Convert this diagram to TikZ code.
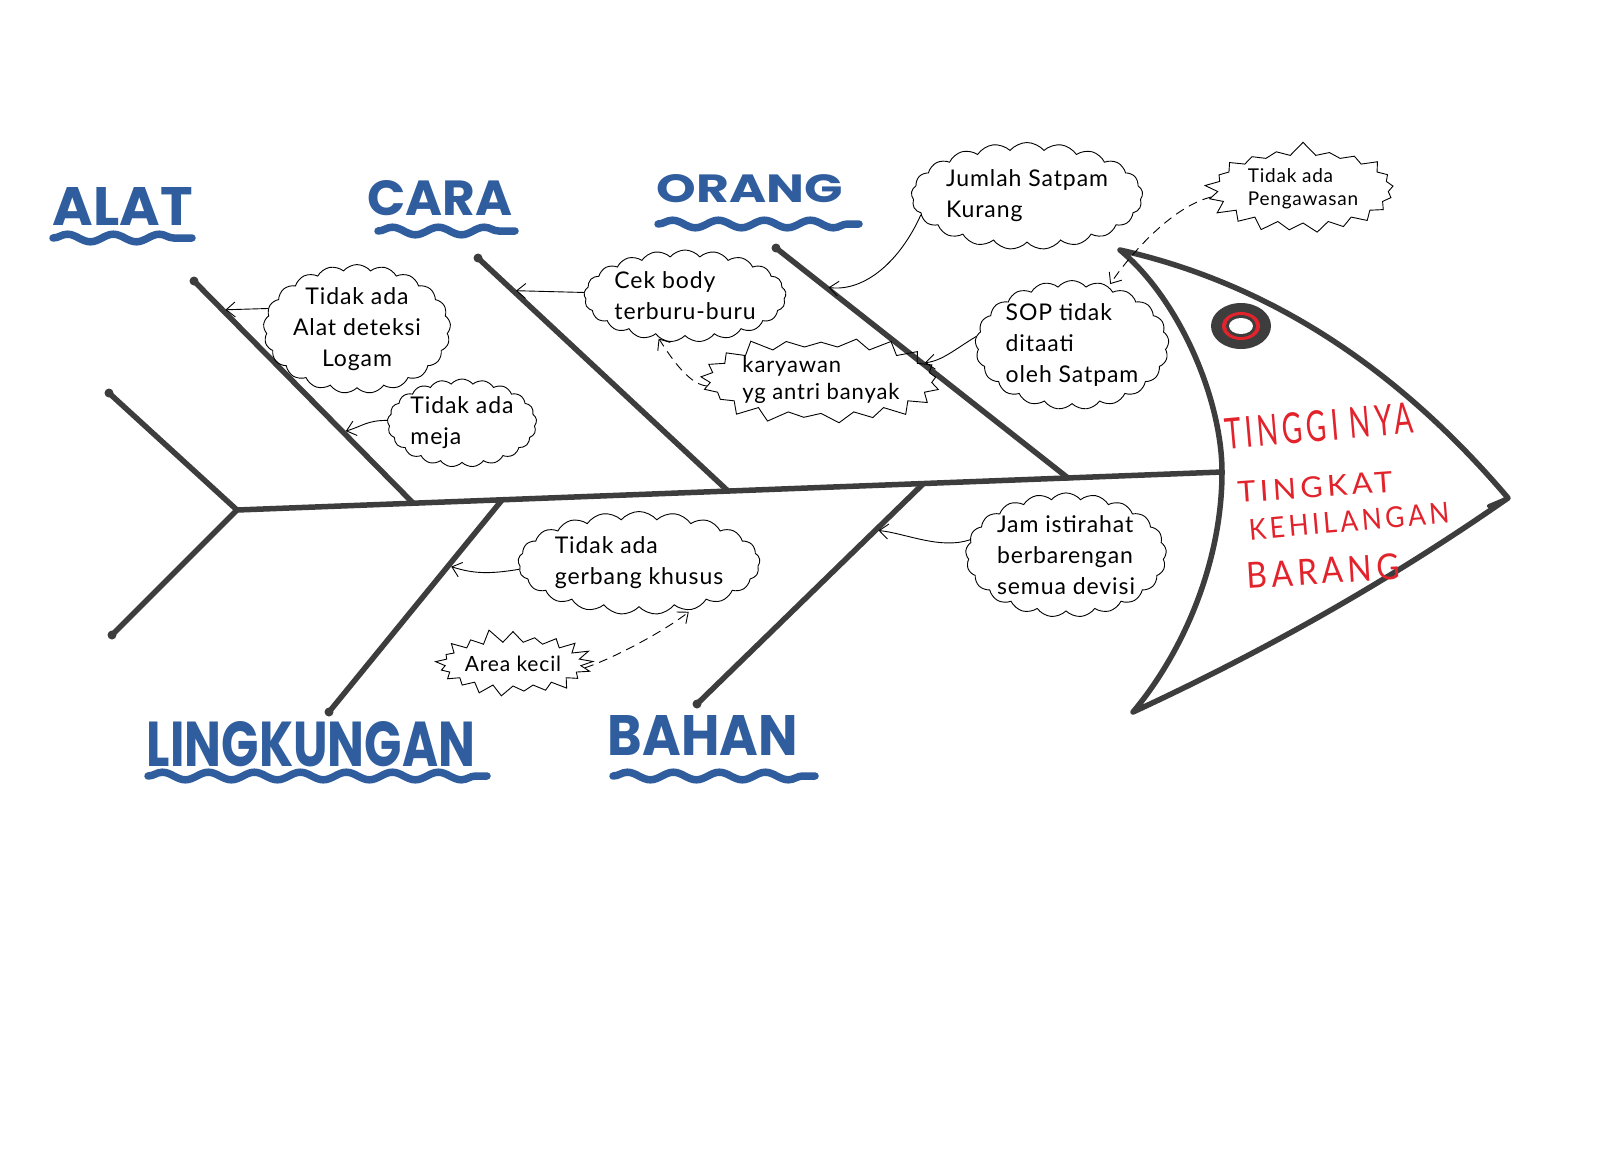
\documentclass[tikz,border=0pt]{standalone}
\usepackage{fontspec}
\usepackage{graphicx}
\usetikzlibrary{shapes.symbols,arrows.meta,decorations.pathmorphing}

\newfontfamily\handfont{Lato}[LetterSpace=4.0]
\newfontfamily\markfont{Poppins}
\newfontfamily\redfont{Lato}[LetterSpace=14.0]
\definecolor{bonegray}{HTML}{3D3D3D}
\definecolor{inkblue}{HTML}{2F5D9E}
\definecolor{inkred}{HTML}{E2232C}
% word stretched to a given width and height (pt)
\newcommand{\fitword}[3]{\resizebox{#1pt}{#2pt}{#3}}

\begin{document}
\begin{tikzpicture}[x=1pt,y=-1pt,
    bone/.style={draw=bonegray,line width=5.5pt,line cap=round,line join=round},
    idea/.style={cloud,cloud puffs=21,cloud puff arc=100,cloud ignores aspect,
      draw,line width=0.9pt,align=left,inner sep=0pt,
      font=\handfont\fontsize{23}{31}\selectfont},
    burst/.style={starburst,starburst points=21,starburst point height=14pt,
      random starburst=#1,draw,line width=0.9pt,align=left,inner sep=0pt,
      font=\handfont\fontsize{21}{26}\selectfont},
    pointer/.style={line width=0.9pt,shorten >=3pt,-{Straight Barb[length=9pt,width=15pt]}},
    hint/.style={pointer,dash pattern=on 9pt off 6pt},
    title/.style={text=inkblue,font=\markfont\bfseries,inner sep=0pt},
    wave/.style={draw=inkblue,line width=7.5pt,line cap=round,decorate,
      decoration={snake,amplitude=3.8pt,segment length=46pt}},
    effect/.style={text=inkred,font=\redfont,inner sep=0pt}]

\fill[white] (0,0) rectangle (1600,1163);
\useasboundingbox (0,0) rectangle (1600,1163);

% spine and tail
\draw[bone] (109,393) -- (237,510) -- (112,635);
\draw[bone] (237,510) -- (1222,472);
\fill[bonegray] (109,393) circle (4.5pt) (112,635) circle (4.5pt);

% bones: free end, end on spine, name, two marks along the bone
\foreach \xa/\ya/\xb/\yb/\nm/\p/\q in {194/281/413/503/alat/0.13/0.68,
    478/258/728/491/cara/0.14/0.5, 776/248/1068/478/orang/0.17/0.5,
    329/712/502/500/lingk/0.69/0.5, 697/704/923/484/bahan/0.79/0.5} {
  \draw[bone] (\xa,\ya) -- (\xb,\yb)
    coordinate[pos=\p] (\nm-p) coordinate[pos=\q] (\nm-q);
  \fill[bonegray] (\xa,\ya) circle (4.5pt);
}

% head
\draw[bone] (1120,250) .. controls (1267,283) and (1396,366) .. (1508,498)
  .. controls (1392,579) and (1267,650) .. (1133,712)
  .. controls (1185,650) and (1222,560) .. (1222,472)
  .. controls (1222,400) and (1180,300) .. cycle;
\draw[bone,line width=4pt] (1508,498) -- (1489,506);
% eye
\fill[bonegray] (1241,326) ellipse [x radius=30,y radius=23];
\fill[inkred] (1241,326) ellipse [x radius=19,y radius=14];
\fill[bonegray] (1241,326) ellipse [x radius=15,y radius=11];
\fill[white] (1241,326) ellipse [x radius=12,y radius=8];

% category names
\node[title] (alat) at (123,206) {\fitword{140}{38}{ALAT}};
\node[title] (cara) at (440,198) {\fitword{145}{35}{CARA}};
\node[title] (orang) at (750,189) {\fitword{186}{28}{ORANG}};
\node[title] (lingk) at (311,744) {\fitword{328}{45}{LINGKUNGAN}};
\node[title] (bahan) at (703,735) {\fitword{190}{40}{BAHAN}};
\foreach \xa/\xb/\yy in {53/192/238, 378/515/231, 658/859/224, 148/487/776, 613/815/776}
  \draw[wave] (\xa,\yy) -- (\xb,\yy);

% problem in the head
\node[effect,rotate=5] (tinggi) at (1319,426) {\fitword{188}{31}{TINGGI NYA}};
\node[effect,rotate=4] (tingkat) at (1315,487) {\fitword{155}{21}{TINGKAT}};
\node[effect,rotate=5] (hilang) at (1349,521) {\fitword{201}{21}{KEHILANGAN}};
\node[effect,rotate=3.5] (barang) at (1323,571) {\fitword{153}{26}{BARANG}};

% causes
\node[idea,align=center,minimum width=184pt,minimum height=122pt] (c-alat) at (357,329) {Tidak ada\\Alat deteksi\\Logam};
\node[idea,minimum width=140pt,minimum height=88pt] (c-meja) at (462,423) {Tidak ada\\meja};
\node[idea,minimum width=182pt,minimum height=92pt] (c-cek) at (685,296) {Cek body\\terburu-buru};
\node[burst=3,minimum width=224pt,minimum height=77pt,font=\handfont\fontsize{22}{27}\selectfont] (b-antri) at (821,380) {karyawan\\yg antri banyak};
\node[idea,minimum width=222pt,minimum height=107pt] (c-jumlah) at (1027,196) {Jumlah Satpam\\Kurang};
\node[burst=7,minimum width=199pt,minimum height=96pt,font=\handfont\fontsize{19}{23}\selectfont] (b-awas) at (1303,189) {Tidak ada\\Pengawasan};
\node[idea,minimum width=189pt,minimum height=122pt] (c-sop) at (1072,345) {SOP tidak\\ditaati\\oleh Satpam};
\node[idea,minimum width=242pt,minimum height=103pt] (c-gerbang) at (639,563) {Tidak ada\\gerbang khusus};
\node[burst=11,minimum width=160pt,minimum height=72pt] (b-area) at (513,664) {Area kecil};
\node[idea,minimum width=194pt,minimum height=124pt] (c-jam) at (1066,555) {Jam istirahat\\berbarengan\\semua devisi};

% arrows to the bones
\draw[pointer] (c-alat.167) -- (alat-p);
\draw[pointer] (c-meja.178) .. controls +(-20,0) and +(20,-6) .. (alat-q);
\draw[pointer] (c-cek.178) -- (cara-p);
\draw[hint] (b-antri.183) .. controls +(-20,-2) and +(10,15) .. (c-cek.235);
\draw[pointer] (c-jumlah.190) .. controls +(-20,45) and +(40,5) .. (orang-p);
\draw[hint] (b-awas.185) .. controls +(-40,10) and +(20,-30) .. (c-sop.58);
\draw[pointer] (c-sop.175) .. controls +(-20,12) and +(20,-2) .. (orang-q);
\draw[pointer] (c-gerbang.183) .. controls +(-30,5) and +(25,8) .. (lingk-p);
\draw[hint] (b-area.357) .. controls +(30,-10) and +(-25,20) .. (c-gerbang.318);
\draw[pointer] (c-jam.171) .. controls +(-30,10) and +(30,3) .. (bahan-p);

\end{tikzpicture}
\end{document}
